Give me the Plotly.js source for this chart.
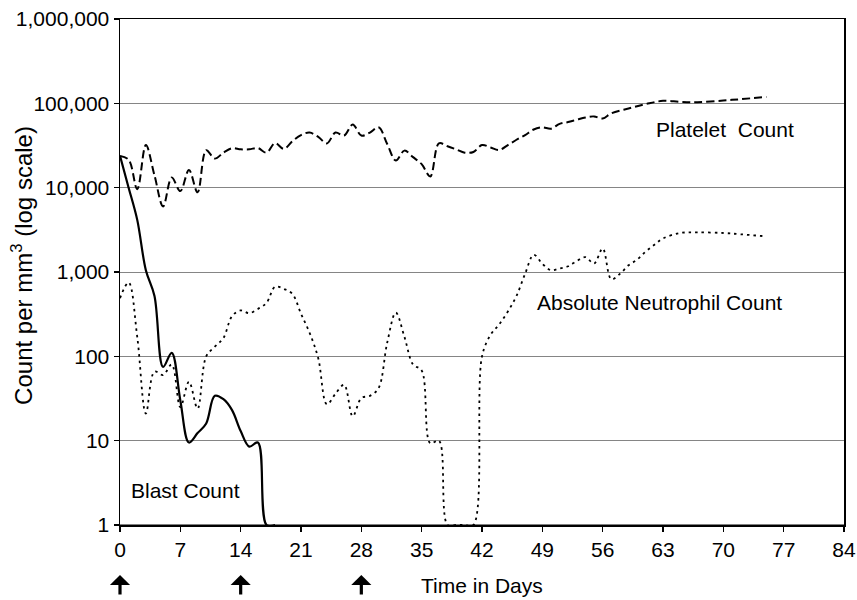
<!DOCTYPE html>
<html>
<head>
<meta charset="utf-8">
<script src="https://cdn.plot.ly/plotly-3.0.1.min.js"></script>
<style>
html,body{margin:0;padding:0;background:#fff;}
#chart{width:857px;height:600px;}
</style>
</head>
<body>
<div id="chart"></div>
<script>
// ---- data ----
const blastDays = [0,1,2,3,4,5,6,7,8,9,10,11,12,13,14,15,16,17,18];
const blastCount = [23800,10000,4150,1050,520,75,110,30,9.5,12.3,16,34,31,23,13,8.5,9.5,1,1];

const plateletDays = [0,1,2,3,4,5,6,7,8,9,10,11,12,13,14,15,16,17,18,19,20,21,22,23,24,25,26,27,28,29,30,31,32,33,34,35,36,37,38,39,40,41,42,43,44,45,46,47,48,49,50,51,52,53,54,55,56,57,59,61,63,65,67,70,72,75];
const plateletCount = [23800,21500,9600,32000,14000,6000,13200,9100,16200,8800,27800,22100,26000,29400,28500,28500,29500,26000,33800,28800,35500,42000,45000,40000,33500,45000,41500,56000,41500,45000,52000,33000,21000,27500,23000,19000,13600,33500,31000,28500,26000,26500,32000,30000,28000,32000,37000,42000,49000,52000,50000,57000,60000,64000,68000,70000,66000,76000,87000,98000,107000,104000,103000,108000,112000,119000];

const ancDays = [0,1,2,3,4,5,6,7,8,9,10,11,12,13,14,15,16,17,18,19,20,21,22,23,24,25,26,27,28,29,30,31,32,33,34,35,36,37,38,39,40,41,42,43,44,45,46,47,48,49,50,51,52,53,54,55,56,57,58,59,60,61,62,63,65,67,70,72,75];
const ancCount = [490,750,170,21,66,60,80,25,50,24,100,130,165,300,350,325,365,430,670,630,550,320,190,95,27,36,46,19.5,32,34,42,145,330,170,80,68,9.3,10,1,1,1,1,100,180,240,340,520,950,1600,1250,1050,1100,1170,1350,1500,1260,1900,820,950,1200,1400,1750,2100,2500,2900,2950,2900,2800,2650];

const xTicks = [0,7,14,21,28,35,42,49,56,63,70,77,84];
const yTickVals = [1,10,100,1000,10000,100000,1000000];
const yTickText = ['1','10','100','1,000','10,000','100,000','1,000,000'];
const arrowDays = [0,14,28];

const FONT = 'Liberation Sans, Arial, Helvetica, sans-serif';

const traces = [
  {x: ancDays, y: ancCount, type:'scatter', mode:'lines', name:'Absolute Neutrophil Count',
   line:{color:'#000', width:1.8, dash:'2.5px,4px', shape:'spline', smoothing:1}},
  {x: plateletDays, y: plateletCount, type:'scatter', mode:'lines', name:'Platelet Count',
   line:{color:'#000', width:2, dash:'8px,4px', shape:'spline', smoothing:1}},
  {x: blastDays, y: blastCount, type:'scatter', mode:'lines', name:'Blast Count',
   line:{color:'#000', width:2.2, shape:'spline', smoothing:1}}
];

const annotations = [
  {text:'Platelet\u00a0 Count', x:62.0, y:Math.log10(48300), xref:'x', yref:'y', xanchor:'left', yanchor:'middle', showarrow:false, font:{family:FONT, size:21, color:'#000'}},
  {text:'Absolute Neutrophil Count', x:48.1, y:Math.log10(440), xref:'x', yref:'y', xanchor:'left', yanchor:'middle', showarrow:false, font:{family:FONT, size:21, color:'#000'}},
  {text:'Blast Count', x:1.1, y:Math.log10(2.55), xref:'x', yref:'y', xanchor:'left', yanchor:'middle', showarrow:false, font:{family:FONT, size:21, color:'#000'}},
  {text:'Count per mm<sup>3</sup> (log scale)', x:-0.1354, y:0.514, xref:'paper', yref:'paper', xanchor:'center', yanchor:'middle', textangle:-90, showarrow:false, font:{family:FONT, size:24, color:'#000'}},
  {text:'Time in Days', x:0.5, y:-0.1187, xref:'paper', yref:'paper', xanchor:'center', yanchor:'middle', showarrow:false, font:{family:FONT, size:21, color:'#000'}}
];
arrowDays.forEach(d => {
  annotations.push({text:' ', x:d, y:-0.0988, xref:'x', yref:'paper', showarrow:true,
    ax:0, ay:22, axref:'pixel', ayref:'pixel', arrowhead:1, arrowsize:1.05, arrowwidth:3.2, arrowcolor:'#000', standoff:0, startstandoff:0,
    font:{size:2}});
});

const layout = {
  width:857, height:600,
  margin:{l:120, r:13, t:19, b:75, pad:0},
  paper_bgcolor:'#fff', plot_bgcolor:'#fff',
  showlegend:false,
  font:{family:FONT, size:21, color:'#000'},
  xaxis:{range:[0,84], tickvals:xTicks, ticks:'outside', ticklen:5, tickwidth:1.2, tickcolor:'#000',
    showgrid:false, zeroline:false, showline:true, linecolor:'#000', linewidth:1.5, mirror:true,
    tickfont:{family:FONT, size:21, color:'#000'}, fixedrange:true},
  yaxis:{type:'log', range:[0,6], tickvals:yTickVals, ticktext:yTickText, ticks:'outside', ticklen:5, tickwidth:1.2, tickcolor:'#000',
    showgrid:true, gridcolor:'#858585', gridwidth:1, zeroline:false, showline:true, linecolor:'#000', linewidth:1.5, mirror:true,
    tickfont:{family:FONT, size:21, color:'#000'}, fixedrange:true},
  shapes:[{type:'line', xref:'paper', yref:'y', x0:0, x1:1, y0:1, y1:1, layer:'below', line:{color:'#000', width:1}}],
  annotations: annotations
};

Plotly.newPlot('chart', traces, layout, {displayModeBar:false, staticPlot:true});
</script>
</body>
</html>
